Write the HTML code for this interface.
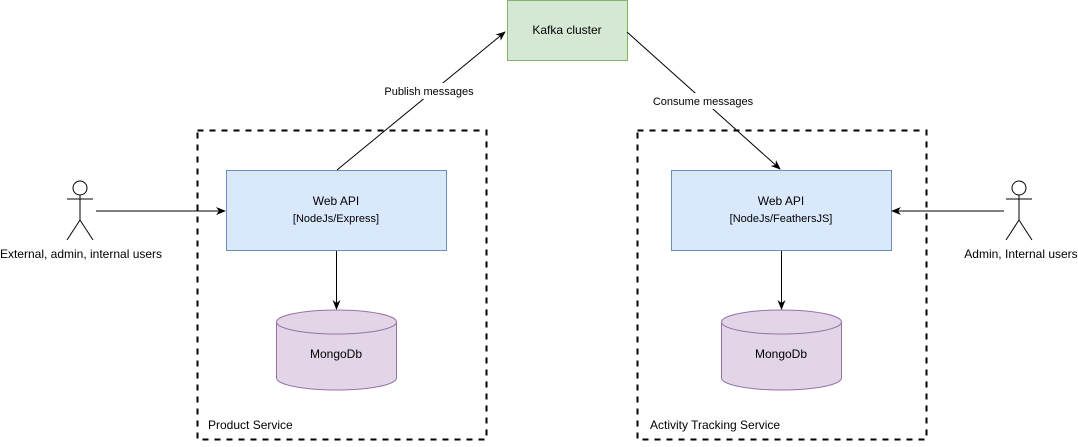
<!DOCTYPE html><html><head><style>body{margin:0;background:#fff}</style></head><body>
<svg width="1078" height="442" xmlns="http://www.w3.org/2000/svg" font-family="Liberation Sans, sans-serif">
<defs><marker id="a" markerWidth="10" markerHeight="8" refX="9" refY="4" orient="auto" markerUnits="userSpaceOnUse"><path d="M0,0 L10,4 L0,8 L3,4 Z" fill="#000"/></marker></defs>
<rect x="197.5" y="130.5" width="289" height="309" fill="none" stroke="#000" stroke-width="2" stroke-dasharray="6,6"/>
<rect x="637.5" y="130.5" width="289" height="309" fill="none" stroke="#000" stroke-width="2" stroke-dasharray="6,6"/>
<text x="208" y="429" font-size="12">Product Service</text>
<text x="650" y="429" font-size="12">Activity Tracking Service</text>
<rect x="507.5" y="0.5" width="120" height="60" fill="#d5e8d4" stroke="#82b366"/>
<text x="567" y="34" font-size="12" text-anchor="middle">Kafka cluster</text>
<rect x="226.5" y="170.5" width="220" height="80" fill="#dae8fc" stroke="#6c8ebf"/>
<text x="336" y="205" font-size="12" text-anchor="middle">Web API</text>
<text x="336" y="222" font-size="11" text-anchor="middle">[NodeJs/Express]</text>
<rect x="671.5" y="170.5" width="220" height="80" fill="#dae8fc" stroke="#6c8ebf"/>
<text x="781" y="205" font-size="12" text-anchor="middle">Web API</text>
<text x="781" y="222" font-size="11" text-anchor="middle">[NodeJs/FeathersJS]</text>
<g fill="#e1d5e7" stroke="#9673a6">
<path d="M276.5,322 A60,12 0 0 1 396.5,322 L396.5,378 A60,12 0 0 1 276.5,378 Z"/><path d="M276.5,322 A60,12 0 0 0 396.5,322" fill="none"/>
<path d="M721.5,322 A60,12 0 0 1 841.5,322 L841.5,378 A60,12 0 0 1 721.5,378 Z"/><path d="M721.5,322 A60,12 0 0 0 841.5,322" fill="none"/>
</g>
<text x="336" y="358" font-size="12" text-anchor="middle">MongoDb</text>
<text x="781" y="358" font-size="12" text-anchor="middle">MongoDb</text>
<g stroke="#000" fill="none">
<line x1="337" y1="170" x2="505" y2="32" marker-end="url(#a)"/>
<line x1="627" y1="32" x2="780" y2="169" marker-end="url(#a)"/>
<line x1="96" y1="211" x2="225" y2="211" marker-end="url(#a)"/>
<line x1="1004" y1="211" x2="892" y2="211" marker-end="url(#a)"/>
<line x1="336.5" y1="251" x2="336.5" y2="309" marker-end="url(#a)"/>
<line x1="781.5" y1="251" x2="781.5" y2="309" marker-end="url(#a)"/>
<circle cx="80" cy="188" r="7"/><line x1="80" y1="195" x2="80" y2="220"/><line x1="67" y1="199" x2="93" y2="199"/><path d="M67,240 L80,220 L93,240"/>
<circle cx="1019" cy="188" r="7"/><line x1="1019" y1="195" x2="1019" y2="220"/><line x1="1006" y1="199" x2="1032" y2="199"/><path d="M1006,240 L1019,220 L1032,240"/>
</g>
<rect x="382" y="83" width="92" height="16" fill="#fff"/>
<text x="429" y="95" font-size="11" text-anchor="middle">Publish messages</text>
<rect x="650" y="93" width="106" height="16" fill="#fff"/>
<text x="703" y="105" font-size="11" text-anchor="middle">Consume messages</text>
<text x="81" y="258" font-size="12" text-anchor="middle">External, admin, internal users</text>
<text x="1021" y="258" font-size="12" text-anchor="middle">Admin, Internal users</text>
</svg></body></html>
